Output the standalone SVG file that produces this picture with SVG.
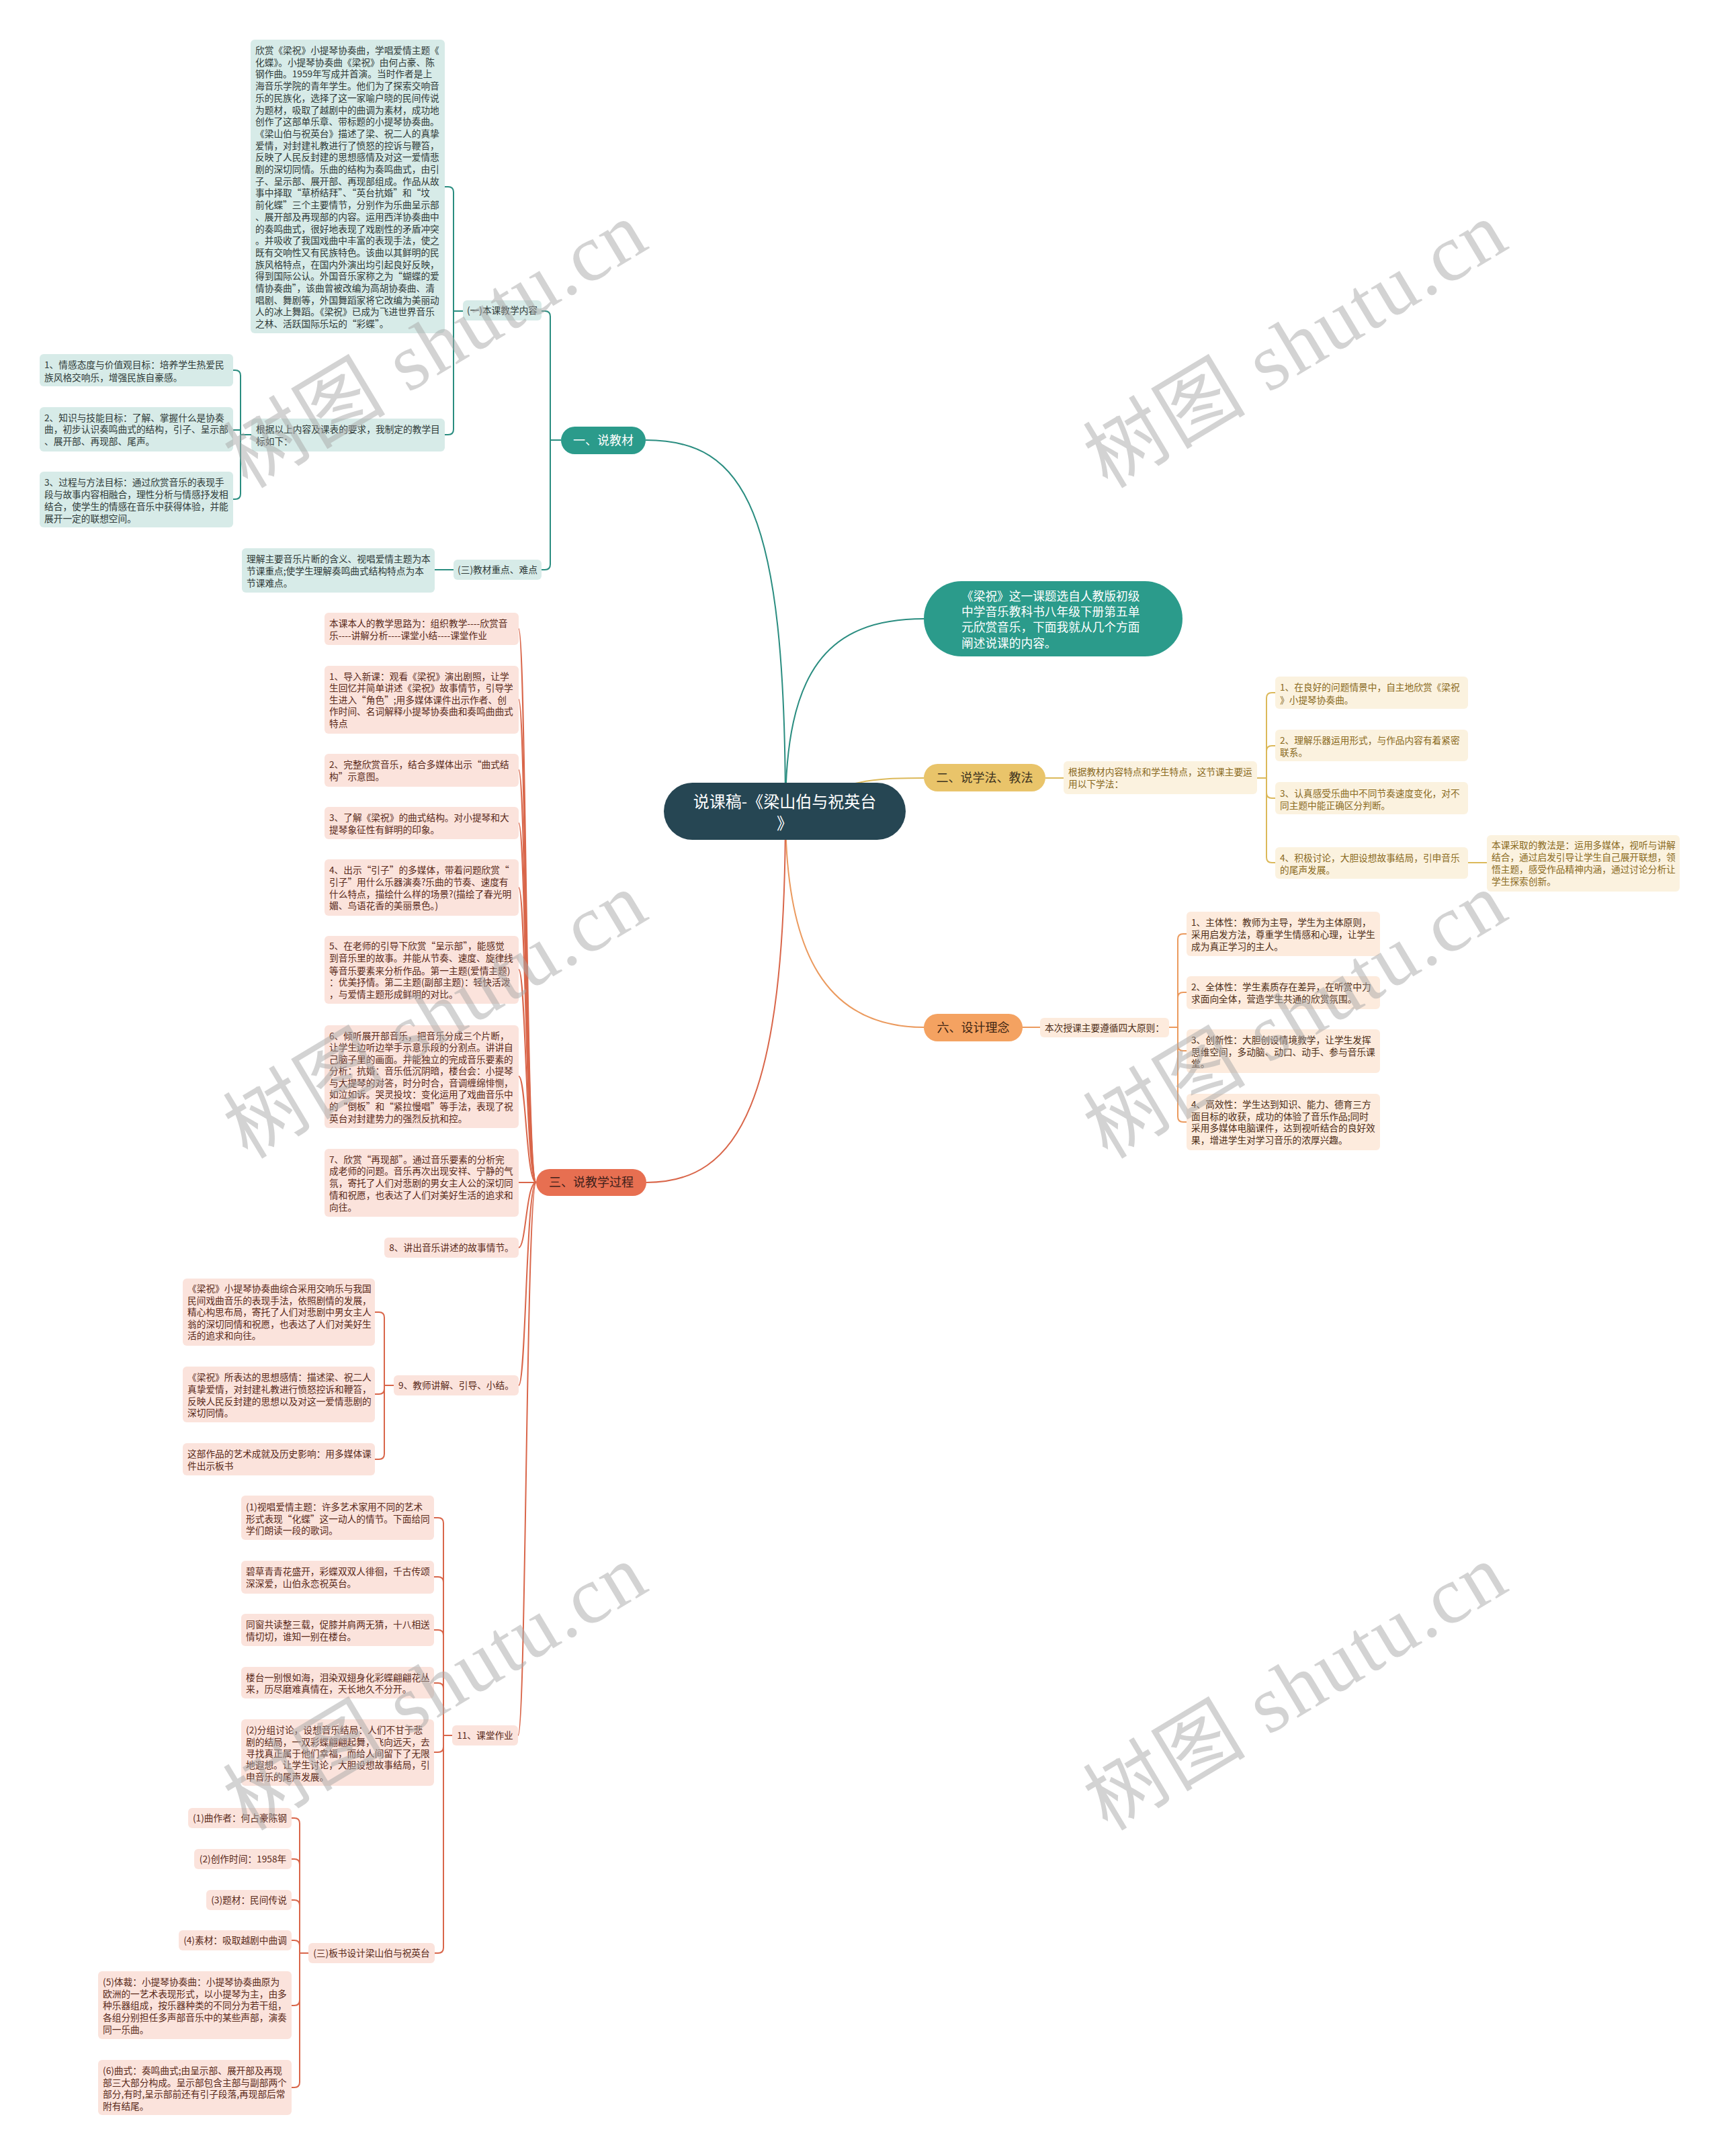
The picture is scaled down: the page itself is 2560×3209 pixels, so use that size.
<svg xmlns="http://www.w3.org/2000/svg" width="2560" height="3209" viewBox="0 0 2560 3209">
<style>
text{font-family:"Noto Sans CJK SC","Liberation Sans",sans-serif;font-size:13.7px;}
.c{fill:none;stroke-width:2;}
.ct{stroke:#2a8d80;}
.cg{stroke:#dcb95a;}
.co{stroke:#eb9a5e;}
.cr{stroke:#d9664a;}
.bt{fill:#d7ebe8;}
.bg{fill:#fbf2df;}
.bo{fill:#fdebdd;}
.br{fill:#fbe3dc;}
.tt{fill:#2f3a38;}
.tg{fill:#8a6a1e;}
.to{fill:#4d2d16;}
.tr{fill:#5a2a1a;}
.m{text-anchor:middle;}
.big{font-size:18px;}
.wm{font-family:"Liberation Serif","Noto Sans CJK SC",serif;font-size:120px;fill:#a8a8a8;opacity:0.5;text-anchor:middle;}
</style>
<rect width="2560" height="3209" fill="#ffffff"/>
<g id="connectors">
<path class="c ct" d="M 1169 1207 C 1169 760 1110 655 961 655"/>
<path class="c ct" d="M 1169 1207 C 1169 1000 1230 921 1375 921"/>
<path class="c ct" d="M 835 655 H 819 V 471 Q 819 463 811 463 H 806"/>
<path class="c ct" d="M 819 655 V 840 Q 819 848 811 848 H 806"/>
<path class="c ct" d="M 689 463 H 675 V 286 Q 675 278 667 278 H 662"/>
<path class="c ct" d="M 675 463 V 639 Q 675 647 667 647 H 662"/>
<path class="c ct" d="M 374 647 H 358 V 559 Q 358 551 350 551 H 347"/>
<path class="c ct" d="M 358 647 V 735 Q 358 743 350 743 H 347"/>
<path class="c ct" d="M 358 640 H 347"/>
<path class="c ct" d="M 675 848 H 647"/>
<path class="c cg" d="M 1169 1207 C 1260 1160 1300 1158 1375 1158"/>
<path class="c cg" d="M 1556 1158 H 1583"/>
<path class="c cg" d="M 1871 1158 H 1885 V 1039 Q 1885 1031 1893 1031 H 1898"/>
<path class="c cg" d="M 1885 1118 Q 1885 1110 1893 1110 H 1898"/>
<path class="c cg" d="M 1885 1158 V 1180 Q 1885 1188 1893 1188 H 1898"/>
<path class="c cg" d="M 1885 1158 V 1276 Q 1885 1284 1893 1284 H 1898"/>
<path class="c cg" d="M 2185 1284 H 2213"/>
<path class="c co" d="M 1169 1207 C 1169 1420 1230 1529 1375 1529"/>
<path class="c co" d="M 1522 1529 H 1548"/>
<path class="c co" d="M 1740 1529 H 1753 V 1398 Q 1753 1390 1761 1390 H 1766"/>
<path class="c co" d="M 1753 1485 Q 1753 1477 1761 1477 H 1766"/>
<path class="c co" d="M 1753 1529 V 1556 Q 1753 1564 1761 1564 H 1766"/>
<path class="c co" d="M 1753 1529 V 1662 Q 1753 1670 1761 1670 H 1766"/>
<path class="c cr" d="M 1169 1207 C 1169 1640 1100 1760 962 1760"/>
<path class="c cr" d="M 798 1760 C 783 1760 783 936 772 936"/>
<path class="c cr" d="M 798 1760 C 783 1760 783 1041 772 1041"/>
<path class="c cr" d="M 798 1760 C 783 1760 783 1146 772 1146"/>
<path class="c cr" d="M 798 1760 C 783 1760 783 1225 772 1225"/>
<path class="c cr" d="M 798 1760 C 783 1760 783 1321 772 1321"/>
<path class="c cr" d="M 798 1760 C 783 1760 783 1443 772 1443"/>
<path class="c cr" d="M 798 1760 C 783 1760 783 1602 772 1602"/>
<path class="c cr" d="M 798 1760 H 772"/>
<path class="c cr" d="M 798 1760 C 783 1760 783 1857 772 1857"/>
<path class="c cr" d="M 798 1760 C 783 1760 783 2062 772 2062"/>
<path class="c cr" d="M 798 1760 C 783 1760 783 2583 771 2583"/>
<path class="c cr" d="M 586 2062 H 572 V 1961 Q 572 1953 564 1953 H 558"/>
<path class="c cr" d="M 572 2062 V 2067 Q 572 2075 564 2075 H 558"/>
<path class="c cr" d="M 572 2062 V 2164 Q 572 2172 564 2172 H 558"/>
<path class="c cr" d="M 673 2583 H 660 V 2267 Q 660 2259 652 2259 H 646"/>
<path class="c cr" d="M 660 2355 Q 660 2347 652 2347 H 646"/>
<path class="c cr" d="M 660 2434 Q 660 2426 652 2426 H 646"/>
<path class="c cr" d="M 660 2513 Q 660 2505 652 2505 H 646"/>
<path class="c cr" d="M 660 2583 V 2600 Q 660 2608 652 2608 H 646"/>
<path class="c cr" d="M 660 2583 V 2899 Q 660 2907 652 2907 H 647"/>
<path class="c cr" d="M 459 2907 H 446 V 2714 Q 446 2706 438 2706 H 434"/>
<path class="c cr" d="M 446 2775 Q 446 2767 438 2767 H 434"/>
<path class="c cr" d="M 446 2836 Q 446 2828 438 2828 H 434"/>
<path class="c cr" d="M 446 2896 Q 446 2888 438 2888 H 434"/>
<path class="c cr" d="M 446 2907 V 2977 Q 446 2985 438 2985 H 434"/>
<path class="c cr" d="M 446 2907 V 3099 Q 446 3107 438 3107 H 434"/>
</g>

<g id="root">
<rect x="988" y="1165" width="360" height="85" rx="42.5" fill="#264653"/>
<text class="m" x="1168" y="1202" style="font-size:24px" fill="#ffffff">说课稿-《梁山伯与祝英台</text>
<text class="m" x="1168" y="1234" style="font-size:24px" fill="#ffffff">》</text>
</g>

<g id="intro">
<rect x="1375" y="865" width="385" height="112" rx="56" fill="#2b9b8b"/>
<text fill="#ffffff" style="font-size:17.7px"><tspan x="1431" y="894">《梁祝》这一课题选自人教版初级</tspan><tspan x="1431" y="917">中学音乐教科书八年级下册第五单</tspan><tspan x="1431" y="940">元欣赏音乐，下面我就从几个方面</tspan><tspan x="1431" y="964">阐述说课的内容。</tspan></text>
</g>

<!-- Branch 一 -->
<g id="b1">
<rect x="835" y="635" width="126" height="41" rx="20.5" fill="#2b9b8b"/>
<text class="m big" x="898" y="662" fill="#ffffff">一、说教材</text>
</g>
<g id="b1-1">
<rect class="bt" x="689" y="447" width="117" height="30" rx="6"/>
<text class="m tt" x="747.5" y="467">(一)本课教学内容</text>
</g>
<g id="b1-1-text">
<rect class="bt" x="373" y="59" width="289" height="437" rx="6"/>
<text class="tt">
<tspan x="380" y="80">欣赏《梁祝》小提琴协奏曲，学唱爱情主题《</tspan>
<tspan x="380" y="97.7">化蝶》。小提琴协奏曲《梁祝》由何占豪、陈</tspan>
<tspan x="380" y="115.4">钢作曲。1959年写成并首演。当时作者是上</tspan>
<tspan x="380" y="133.1">海音乐学院的青年学生。他们为了探索交响音</tspan>
<tspan x="380" y="150.8">乐的民族化，选择了这一家喻户晓的民间传说</tspan>
<tspan x="380" y="168.5">为题材，吸取了越剧中的曲调为素材，成功地</tspan>
<tspan x="380" y="186.2">创作了这部单乐章、带标题的小提琴协奏曲。</tspan>
<tspan x="380" y="203.9">《梁山伯与祝英台》描述了梁、祝二人的真挚</tspan>
<tspan x="380" y="221.6">爱情，对封建礼教进行了愤怒的控诉与鞭笞，</tspan>
<tspan x="380" y="239.3">反映了人民反封建的思想感情及对这一爱情悲</tspan>
<tspan x="380" y="257">剧的深切同情。乐曲的结构为奏鸣曲式，由引</tspan>
<tspan x="380" y="274.7">子、呈示部、展开部、再现部组成。作品从故</tspan>
<tspan x="380" y="292.4">事中择取“草桥结拜”、“英台抗婚”和“坟</tspan>
<tspan x="380" y="310.1">前化蝶”三个主要情节，分别作为乐曲呈示部</tspan>
<tspan x="380" y="327.8">、展开部及再现部的内容。运用西洋协奏曲中</tspan>
<tspan x="380" y="345.5">的奏鸣曲式，很好地表现了戏剧性的矛盾冲突</tspan>
<tspan x="380" y="363.2">。并吸收了我国戏曲中丰富的表现手法，使之</tspan>
<tspan x="380" y="380.9">既有交响性又有民族特色。该曲以其鲜明的民</tspan>
<tspan x="380" y="398.6">族风格特点，在国内外演出均引起良好反映，</tspan>
<tspan x="380" y="416.3">得到国际公认。外国音乐家称之为“蝴蝶的爱</tspan>
<tspan x="380" y="434">情协奏曲”，该曲曾被改编为高胡协奏曲、清</tspan>
<tspan x="380" y="451.7">唱剧、舞剧等，外国舞蹈家将它改编为美丽动</tspan>
<tspan x="380" y="469.4">人的冰上舞蹈。《梁祝》已成为飞进世界音乐</tspan>
<tspan x="380" y="487.1">之林、活跃国际乐坛的“彩蝶”。</tspan>
</text>
</g>
<g id="b1-1-goal">
<rect class="bt" x="374" y="623" width="288" height="49" rx="6"/>
<text class="tt"><tspan x="381" y="644">根据以上内容及课表的要求，我制定的教学目</tspan><tspan x="381" y="662">标如下：</tspan></text>
</g>
<g id="b1-g1">
<rect class="bt" x="59" y="527" width="288" height="48" rx="6"/>
<text class="tt"><tspan x="66" y="548">1、情感态度与价值观目标：培养学生热爱民</tspan><tspan x="66" y="567">族风格交响乐，增强民族自豪感。</tspan></text>
</g>
<g id="b1-g2">
<rect class="bt" x="59" y="606" width="288" height="66" rx="6"/>
<text class="tt"><tspan x="66" y="627">2、知识与技能目标：了解、掌握什么是协奏</tspan><tspan x="66" y="644">曲，初步认识奏鸣曲式的结构，引子、呈示部</tspan><tspan x="66" y="662">、展开部、再现部、尾声。</tspan></text>
</g>
<g id="b1-g3">
<rect class="bt" x="59" y="702" width="288" height="83" rx="6"/>
<text class="tt"><tspan x="66" y="723">3、过程与方法目标：通过欣赏音乐的表现手</tspan><tspan x="66" y="741">段与故事内容相融合，理性分析与情感抒发相</tspan><tspan x="66" y="759">结合，使学生的情感在音乐中获得体验，并能</tspan><tspan x="66" y="777">展开一定的联想空间。</tspan></text>
</g>
<g id="b1-3">
<rect class="bt" x="675" y="833" width="131" height="30" rx="6"/>
<text class="m tt" x="740.5" y="853">(三)教材重点、难点</text>
</g>
<g id="b1-3-1">
<rect class="bt" x="360" y="816" width="287" height="66" rx="6"/>
<text class="tt"><tspan x="367" y="837">理解主要音乐片断的含义、视唱爱情主题为本</tspan><tspan x="367" y="855">节课重点;使学生理解奏鸣曲式结构特点为本</tspan><tspan x="367" y="873">节课难点。</tspan></text>
</g>

<!-- Branch 二 -->
<g id="b2">
<rect x="1375" y="1137" width="181" height="41" rx="20.5" fill="#e9c46a"/>
<text class="m big" x="1465.5" y="1164" fill="#3d3320">二、说学法、教法</text>
</g>
<g id="b2-1">
<rect class="bg" x="1583" y="1133" width="288" height="49" rx="6"/>
<text class="tg"><tspan x="1590" y="1154">根据教材内容特点和学生特点，这节课主要运</tspan><tspan x="1590" y="1172">用以下学法：</tspan></text>
</g>
<g id="b2-1-1">
<rect class="bg" x="1898" y="1007" width="287" height="48" rx="6"/>
<text class="tg"><tspan x="1905" y="1028">1、在良好的问题情景中，自主地欣赏《梁祝</tspan><tspan x="1905" y="1047">》小提琴协奏曲。</tspan></text>
</g>
<g id="b2-1-2">
<rect class="bg" x="1898" y="1086" width="287" height="47" rx="6"/>
<text class="tg"><tspan x="1905" y="1107">2、理解乐器运用形式，与作品内容有着紧密</tspan><tspan x="1905" y="1125">联系。</tspan></text>
</g>
<g id="b2-1-3">
<rect class="bg" x="1898" y="1164" width="287" height="48" rx="6"/>
<text class="tg"><tspan x="1905" y="1186">3、认真感受乐曲中不同节奏速度变化，对不</tspan><tspan x="1905" y="1204">同主题中能正确区分判断。</tspan></text>
</g>
<g id="b2-1-4">
<rect class="bg" x="1898" y="1261" width="287" height="47" rx="6"/>
<text class="tg"><tspan x="1905" y="1282">4、积极讨论，大胆设想故事结局，引申音乐</tspan><tspan x="1905" y="1300">的尾声发展。</tspan></text>
</g>
<g id="b2-1-4-1">
<rect class="bg" x="2213" y="1243" width="287" height="84" rx="6"/>
<text class="tg"><tspan x="2220" y="1263">本课采取的教法是：运用多媒体，视听与讲解</tspan><tspan x="2220" y="1281">结合，通过启发引导让学生自己展开联想，领</tspan><tspan x="2220" y="1299">悟主题，感受作品精神内涵，通过讨论分析让</tspan><tspan x="2220" y="1317">学生探索创新。</tspan></text>
</g>

<!-- Branch 六 -->
<g id="b6">
<rect x="1375" y="1509" width="147" height="41" rx="20.5" fill="#f4a261"/>
<text class="m big" x="1448.5" y="1536" fill="#3d2412">六、设计理念</text>
</g>
<g id="b6-1">
<rect class="bo" x="1548" y="1515" width="192" height="29" rx="6"/>
<text class="m to" x="1644" y="1535">本次授课主要遵循四大原则：</text>
</g>
<g id="b6-1-1">
<rect class="bo" x="1766" y="1357" width="288" height="66" rx="6"/>
<text class="to"><tspan x="1773" y="1378">1、主体性：教师为主导，学生为主体原则，</tspan><tspan x="1773" y="1396">采用启发方法，尊重学生情感和心理，让学生</tspan><tspan x="1773" y="1414">成为真正学习的主人。</tspan></text>
</g>
<g id="b6-1-2">
<rect class="bo" x="1766" y="1453" width="288" height="49" rx="6"/>
<text class="to"><tspan x="1773" y="1474">2、全体性：学生素质存在差异，在听赏中力</tspan><tspan x="1773" y="1492">求面向全体，营造学生共通的欣赏氛围。</tspan></text>
</g>
<g id="b6-1-3">
<rect class="bo" x="1766" y="1532" width="288" height="65" rx="6"/>
<text class="to"><tspan x="1773" y="1553">3、创新性：大胆创设情境教学，让学生发挥</tspan><tspan x="1773" y="1571">思维空间，多动脑、动口、动手、参与音乐课</tspan><tspan x="1773" y="1588">堂。</tspan></text>
</g>
<g id="b6-1-4">
<rect class="bo" x="1766" y="1628" width="288" height="84" rx="6"/>
<text class="to"><tspan x="1773" y="1649">4、高效性：学生达到知识、能力、德育三方</tspan><tspan x="1773" y="1667">面目标的收获，成功的体验了音乐作品;同时</tspan><tspan x="1773" y="1684">采用多媒体电脑课件，达到视听结合的良好效</tspan><tspan x="1773" y="1702">果，增进学生对学习音乐的浓厚兴趣。</tspan></text>
</g>

<!-- Branch 三 -->
<g id="b3">
<rect x="798" y="1740" width="164" height="40" rx="20" fill="#e76f51"/>
<text class="m big" x="880" y="1766" fill="#40201a">三、说教学过程</text>
</g>
<g id="b3-a">
<rect class="br" x="483" y="912" width="289" height="48" rx="6"/>
<text class="tr"><tspan x="490" y="933">本课本人的教学思路为：组织教学----欣赏音</tspan><tspan x="490" y="951">乐----讲解分析----课堂小结----课堂作业</tspan></text>
</g>
<g id="b3-1">
<rect class="br" x="483" y="991" width="289" height="101" rx="6"/>
<text class="tr"><tspan x="490" y="1012">1、导入新课：观看《梁祝》演出剧照，让学</tspan><tspan x="490" y="1029">生回忆并简单讲述《梁祝》故事情节，引导学</tspan><tspan x="490" y="1047">生进入“角色”;用多媒体课件出示作者、创</tspan><tspan x="490" y="1064">作时间、名词解释小提琴协奏曲和奏鸣曲曲式</tspan><tspan x="490" y="1082">特点</tspan></text>
</g>
<g id="b3-2">
<rect class="br" x="483" y="1122" width="289" height="49" rx="6"/>
<text class="tr"><tspan x="490" y="1143">2、完整欣赏音乐，结合多媒体出示“曲式结</tspan><tspan x="490" y="1161">构”示意图。</tspan></text>
</g>
<g id="b3-3">
<rect class="br" x="483" y="1201" width="289" height="48" rx="6"/>
<text class="tr"><tspan x="490" y="1222">3、了解《梁祝》的曲式结构。对小提琴和大</tspan><tspan x="490" y="1240">提琴象征性有鲜明的印象。</tspan></text>
</g>
<g id="b3-4">
<rect class="br" x="483" y="1279" width="289" height="84" rx="6"/>
<text class="tr"><tspan x="490" y="1300">4、出示“引子”的多媒体，带着问题欣赏“</tspan><tspan x="490" y="1318">引子”用什么乐器演奏?乐曲的节奏、速度有</tspan><tspan x="490" y="1336">什么特点，描绘什么样的场景?(描绘了春光明</tspan><tspan x="490" y="1353">媚、鸟语花香的美丽景色。)</tspan></text>
</g>
<g id="b3-5">
<rect class="br" x="483" y="1393" width="289" height="101" rx="6"/>
<text class="tr"><tspan x="490" y="1413">5、在老师的引导下欣赏“呈示部”，能感觉</tspan><tspan x="490" y="1431">到音乐里的故事。并能从节奏、速度、旋律线</tspan><tspan x="490" y="1450">等音乐要素来分析作品。第一主题(爱情主题)</tspan><tspan x="490" y="1467">：优美抒情。第二主题(副部主题)：轻快活泼</tspan><tspan x="490" y="1485">，与爱情主题形成鲜明的对比。</tspan></text>
</g>
<g id="b3-6">
<rect class="br" x="483" y="1526" width="289" height="153" rx="6"/>
<text class="tr"><tspan x="490" y="1547">6、倾听展开部音乐，把音乐分成三个片断，</tspan><tspan x="490" y="1564">让学生边听边举手示意乐段的分割点。讲讲自</tspan><tspan x="490" y="1582">己脑子里的画面。并能独立的完成音乐要素的</tspan><tspan x="490" y="1599">分析：抗婚：音乐低沉阴暗，楼台会：小提琴</tspan><tspan x="490" y="1617">与大提琴的对答，时分时合，音调缠绵悱恻，</tspan><tspan x="490" y="1634">如泣如诉。哭灵投坟：变化运用了戏曲音乐中</tspan><tspan x="490" y="1652">的“倒板”和“紧拉慢唱”等手法，表现了祝</tspan><tspan x="490" y="1670">英台对封建势力的强烈反抗和控。</tspan></text>
</g>
<g id="b3-7">
<rect class="br" x="483" y="1710" width="289" height="101" rx="6"/>
<text class="tr"><tspan x="490" y="1731">7、欣赏“再现部”。通过音乐要素的分析完</tspan><tspan x="490" y="1748">成老师的问题。音乐再次出现安祥、宁静的气</tspan><tspan x="490" y="1766">氛，寄托了人们对悲剧的男女主人公的深切同</tspan><tspan x="490" y="1784">情和祝愿，也表达了人们对美好生活的追求和</tspan><tspan x="490" y="1802">向往。</tspan></text>
</g>
<g id="b3-8">
<rect class="br" x="572" y="1842" width="200" height="30" rx="6"/>
<text class="m tr" x="672" y="1862">8、讲出音乐讲述的故事情节。</text>
</g>
<g id="b3-9">
<rect class="br" x="586" y="2047" width="186" height="30" rx="6"/>
<text class="m tr" x="679" y="2067">9、教师讲解、引导、小结。</text>
</g>
<g id="b3-9-1">
<rect class="br" x="272" y="1903" width="286" height="100" rx="6"/>
<text class="tr"><tspan x="279" y="1923">《梁祝》小提琴协奏曲综合采用交响乐与我国</tspan><tspan x="279" y="1941">民间戏曲音乐的表现手法，依照剧情的发展，</tspan><tspan x="279" y="1958">精心构思布局，寄托了人们对悲剧中男女主人</tspan><tspan x="279" y="1976">翁的深切同情和祝愿，也表达了人们对美好生</tspan><tspan x="279" y="1993">活的追求和向往。</tspan></text>
</g>
<g id="b3-9-2">
<rect class="br" x="272" y="2034" width="286" height="83" rx="6"/>
<text class="tr"><tspan x="279" y="2055">《梁祝》所表达的思想感情：描述梁、祝二人</tspan><tspan x="279" y="2073">真挚爱情，对封建礼教进行愤怒控诉和鞭笞，</tspan><tspan x="279" y="2091">反映人民反封建的思想以及对这一爱情悲剧的</tspan><tspan x="279" y="2108">深切同情。</tspan></text>
</g>
<g id="b3-9-3">
<rect class="br" x="272" y="2148" width="286" height="48" rx="6"/>
<text class="tr"><tspan x="279" y="2169">这部作品的艺术成就及历史影响：用多媒体课</tspan><tspan x="279" y="2187">件出示板书</tspan></text>
</g>
<g id="b3-11">
<rect class="br" x="673" y="2568" width="98" height="30" rx="6"/>
<text class="m tr" x="722" y="2588">11、课堂作业</text>
</g>
<g id="b3-11-1">
<rect class="br" x="359" y="2226" width="287" height="66" rx="6"/>
<text class="tr"><tspan x="366" y="2248">(1)视唱爱情主题：许多艺术家用不同的艺术</tspan><tspan x="366" y="2266">形式表现“化蝶”这一动人的情节。下面给同</tspan><tspan x="366" y="2283">学们朗读一段的歌词。</tspan></text>
</g>
<g id="b3-11-2">
<rect class="br" x="359" y="2323" width="287" height="49" rx="6"/>
<text class="tr"><tspan x="366" y="2344">碧草青青花盛开，彩蝶双双人徘徊，千古传颂</tspan><tspan x="366" y="2362">深深爱，山伯永恋祝英台。</tspan></text>
</g>
<g id="b3-11-3">
<rect class="br" x="359" y="2402" width="287" height="48" rx="6"/>
<text class="tr"><tspan x="366" y="2423">同窗共读整三载，促膝并肩两无猜，十八相送</tspan><tspan x="366" y="2441">情切切，谁知一别在楼台。</tspan></text>
</g>
<g id="b3-11-4">
<rect class="br" x="359" y="2481" width="287" height="47" rx="6"/>
<text class="tr"><tspan x="366" y="2502">楼台一别恨如海，泪染双翅身化彩蝶翩翩花丛</tspan><tspan x="366" y="2519">来，历尽磨难真情在，天长地久不分开。</tspan></text>
</g>
<g id="b3-11-5">
<rect class="br" x="359" y="2559" width="287" height="99" rx="6"/>
<text class="tr"><tspan x="366" y="2580">(2)分组讨论，设想音乐结局：人们不甘于悲</tspan><tspan x="366" y="2598">剧的结局，一双彩蝶翩翩起舞，飞向远天，去</tspan><tspan x="366" y="2615">寻找真正属于他们幸福，而给人间留下了无限</tspan><tspan x="366" y="2632">地遐想。让学生讨论，大胆设想故事结局，引</tspan><tspan x="366" y="2650">申音乐的尾声发展。</tspan></text>
</g>
<g id="b3-11-6">
<rect class="br" x="459" y="2892" width="188" height="30" rx="6"/>
<text class="m tr" x="553" y="2912">(三)板书设计梁山伯与祝英台</text>
</g>
<g id="b3-bs-1">
<rect class="br" x="280" y="2691" width="154" height="30" rx="6"/>
<text class="m tr" x="357" y="2711">(1)曲作者：何占豪陈钢</text>
</g>
<g id="b3-bs-2">
<rect class="br" x="289" y="2752" width="145" height="30" rx="6"/>
<text class="m tr" x="361.5" y="2772">(2)创作时间：1958年</text>
</g>
<g id="b3-bs-3">
<rect class="br" x="307" y="2813" width="127" height="30" rx="6"/>
<text class="m tr" x="370.5" y="2833">(3)题材：民间传说</text>
</g>
<g id="b3-bs-4">
<rect class="br" x="266" y="2873" width="168" height="30" rx="6"/>
<text class="m tr" x="350" y="2893">(4)素材：吸取越剧中曲调</text>
</g>
<g id="b3-bs-5">
<rect class="br" x="146" y="2934" width="288" height="101" rx="6"/>
<text class="tr"><tspan x="153" y="2955">(5)体裁：小提琴协奏曲：小提琴协奏曲原为</tspan><tspan x="153" y="2973">欧洲的一艺术表现形式，以小提琴为主，由多</tspan><tspan x="153" y="2990">种乐器组成，按乐器种类的不同分为若干组，</tspan><tspan x="153" y="3008">各组分别担任多声部音乐中的某些声部，演奏</tspan><tspan x="153" y="3026">同一乐曲。</tspan></text>
</g>
<g id="b3-bs-6">
<rect class="br" x="146" y="3066" width="288" height="82" rx="6"/>
<text class="tr"><tspan x="153" y="3087">(6)曲式：奏鸣曲式;由呈示部、展开部及再现</tspan><tspan x="153" y="3105">部三大部分构成。呈示部包含主部与副部两个</tspan><tspan x="153" y="3122">部分,有时,呈示部前还有引子段落,再现部后常</tspan><tspan x="153" y="3140">附有结尾。</tspan></text>
</g>

<g id="watermark">
<text class="wm" transform="translate(648 514) rotate(-31)" x="0" y="40" textLength="700">树图 shutu.cn</text>
<text class="wm" transform="translate(1928 514) rotate(-31)" x="0" y="40" textLength="700">树图 shutu.cn</text>
<text class="wm" transform="translate(648 1512) rotate(-31)" x="0" y="40" textLength="700">树图 shutu.cn</text>
<text class="wm" transform="translate(1928 1512) rotate(-31)" x="0" y="40" textLength="700">树图 shutu.cn</text>
<text class="wm" transform="translate(648 2512) rotate(-31)" x="0" y="40" textLength="700">树图 shutu.cn</text>
<text class="wm" transform="translate(1928 2512) rotate(-31)" x="0" y="40" textLength="700">树图 shutu.cn</text>
</g>
</svg>
